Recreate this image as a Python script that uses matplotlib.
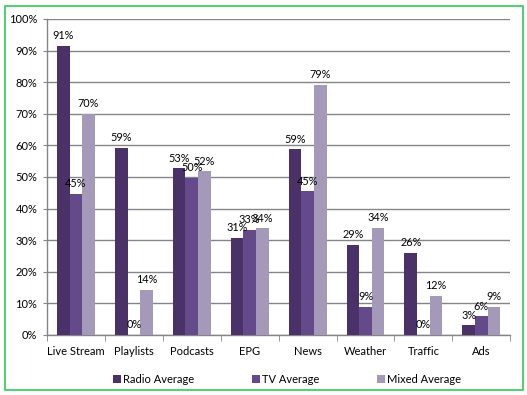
import matplotlib.pyplot as plt
import numpy as np
from matplotlib.patches import Rectangle
from matplotlib.ticker import FuncFormatter

categories = ['Live Stream', 'Playlists', 'Podcasts', 'EPG', 'News', 'Weather', 'Traffic', 'Ads']
radio = [91.4, 59.2, 52.7, 30.7, 58.7, 28.6, 25.9, 3.0]
tv = [44.6, 0.0, 49.6, 33.3, 45.4, 8.8, 0.0, 5.9]
mixed = [70.0, 14.3, 51.8, 33.7, 79.1, 34.0, 12.4, 8.9]
series_names = ['Radio Average', 'TV Average', 'Mixed Average']
colors = ['#4a3167', '#644a8b', '#a499b8']

plt.rcParams['font.family'] = ['Lato', 'DejaVu Sans']
plt.rcParams['font.size'] = 8

fig = plt.figure(figsize=(5.27, 3.95), dpi=100)
ax = fig.add_axes([0.0892, 0.152, 0.879, 0.80])

x = np.arange(len(categories))
w = 0.218
for i, (vals, name) in enumerate(zip([radio, tv, mixed], series_names)):
    pos = x + (i - 1) * w
    ax.bar(pos, vals, width=w, color=colors[i], label=name, zorder=3)
    for p, v in zip(pos, vals):
        ax.text(p, v + 1.5, '%d%%' % round(v), ha='center', va='bottom', fontsize=7.8, zorder=4)

ax.set_xlim(-0.5, len(categories) - 0.5)
ax.set_ylim(0, 100)
ax.set_yticks(np.arange(0, 101, 10))
ax.yaxis.set_major_formatter(FuncFormatter(lambda v, p: '%d%%' % v))
ax.yaxis.grid(True, color='#858585', linewidth=1.0, zorder=0)
ax.set_axisbelow(True)

ax.set_xticks(x)
ax.set_xticklabels(categories)
ax.tick_params(axis='x', length=0, pad=8)
ax.set_xticks(np.arange(-0.5, len(categories) + 0.5, 1), minor=True)
ax.tick_params(axis='x', which='minor', length=4, color='#858585', direction='out')
ax.tick_params(axis='y', length=3, color='#858585', direction='out', pad=4)

for s in ['top', 'right']:
    ax.spines[s].set_visible(False)
for s in ['left', 'bottom']:
    ax.spines[s].set_color('#858585')
    ax.spines[s].set_linewidth(1.0)

fig.legend(loc='center', bbox_to_anchor=(0.545, 0.04), ncol=3, frameon=False,
           handlelength=0.7, handleheight=0.7, handletextpad=0.2, columnspacing=5.2,
           fontsize=8)

fig.patches.append(Rectangle((4.5 / 527, 5 / 395), 518.5 / 527, 384 / 395, transform=fig.transFigure,
                             fill=False, edgecolor='#2ecc55', linewidth=1.2))

fig.savefig('out.png', dpi=100)
